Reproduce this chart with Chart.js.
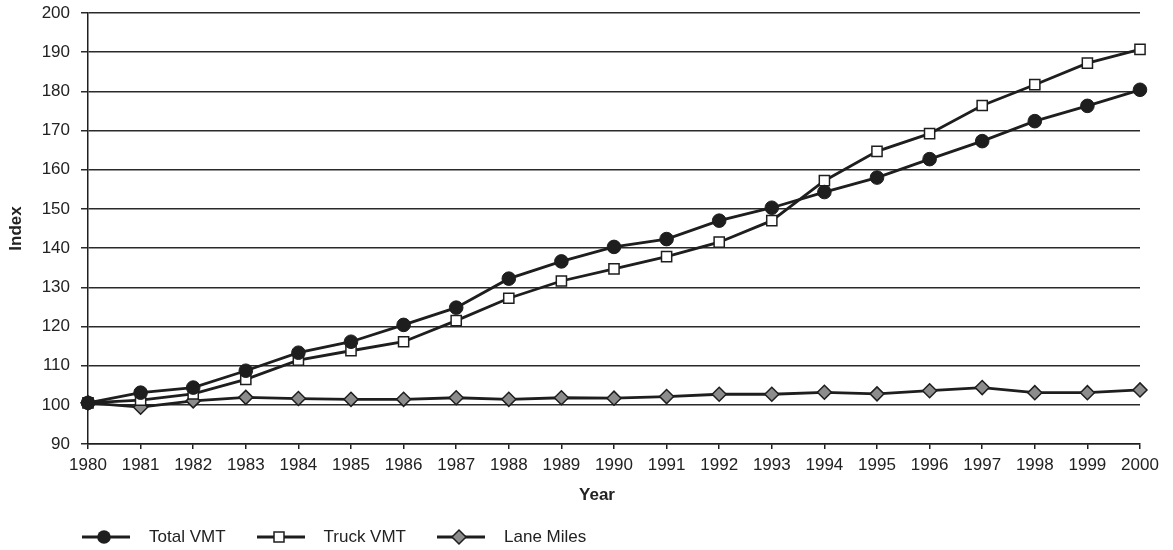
<!DOCTYPE html>
<html>
<head>
<meta charset="utf-8">
<script src="https://cdn.jsdelivr.net/npm/chart.js@4/dist/chart.umd.min.js"></script>
<style>
  html, body { margin: 0; padding: 0; background: #fff; }
  #wrap { position: relative; width: 1173px; height: 550px; }
  #legend {
    position: absolute; left: 82px; top: 527px; height: 20px;
    display: flex; align-items: center;
    font: 17px "Liberation Sans", Arial, sans-serif; color: #222;
  }
  #legend .item { display: flex; align-items: center; margin-right: 31px; }
  #legend svg { margin-right: 19px; }
</style>
</head>
<body>
<div id="wrap">
  <canvas id="chart" width="1173" height="550"></canvas>
  <div id="legend"></div>
</div>
<script>
const years = ["1980","1981","1982","1983","1984","1985","1986","1987","1988","1989","1990",
  "1991","1992","1993","1994","1995","1996","1997","1998","1999","2000"];
const totalVMT = [100.5, 103.1, 104.4, 108.7, 113.3, 116.1, 120.4, 124.8, 132.2, 136.6, 140.3,
  142.3, 147.0, 150.3, 154.3, 158.0, 162.7, 167.3, 172.4, 176.3, 180.4];
const truckVMT = [100.5, 101.2, 102.8, 106.5, 111.4, 113.8, 116.1, 121.5, 127.2, 131.6, 134.7,
  137.8, 141.5, 147.0, 157.2, 164.7, 169.2, 176.4, 181.7, 187.2, 190.7];
const laneMiles = [100.5, 99.4, 101.0, 101.9, 101.6, 101.4, 101.4, 101.8, 101.4, 101.8, 101.7,
  102.1, 102.7, 102.7, 103.2, 102.8, 103.6, 104.4, 103.1, 103.1, 103.8];
const yTicks = [90, 100, 110, 120, 130, 140, 150, 160, 170, 180, 190, 200];

const INK = "#1e1e1e";
const FONT = "'Liberation Sans', Arial, sans-serif";

const series = [
  { label: "Total VMT", data: totalVMT, style: "circle", fill: INK, radius: 6.8, bw: 1 },
  { label: "Truck VMT", data: truckVMT, style: "rect", fill: "#ffffff", radius: 7.2, bw: 1.5 },
  { label: "Lane Miles", data: laneMiles, style: "rectRot", fill: "#8c8c8c", radius: 7, bw: 1.5 },
];

// "Year" sits a bit left of the plot centre in the original
const yearTitle = {
  id: "yearTitle",
  afterDraw(chart) {
    const ctx = chart.ctx;
    ctx.save();
    ctx.font = "bold 17px " + FONT;
    ctx.fillStyle = "#222";
    ctx.textAlign = "center";
    ctx.textBaseline = "middle";
    ctx.fillText("Year", 597, 495);
    ctx.restore();
  },
};

new Chart(document.getElementById("chart"), {
  type: "line",
  data: {
    labels: years,
    datasets: series.map((s) => ({
      label: s.label,
      data: s.data,
      borderColor: INK,
      borderWidth: 2.8,
      pointStyle: s.style,
      pointRadius: s.radius,
      pointBackgroundColor: s.fill,
      pointBorderColor: INK,
      pointBorderWidth: s.bw,
      tension: 0,
    })),
  },
  options: {
    responsive: false,
    animation: false,
    layout: { padding: { top: 13, right: 33, bottom: 45, left: 0 } },
    plugins: { legend: { display: false }, tooltip: { enabled: false } },
    scales: {
      x: {
        grid: { drawOnChartArea: false, drawTicks: true, tickLength: 5, color: INK, lineWidth: 1.5 },
        border: { display: true, color: INK, width: 1.5 },
        ticks: { color: "#222", font: { family: FONT, size: 17 }, padding: 6, maxRotation: 0, autoSkip: false },
        afterFit: (s) => { s.height = 61; s.paddingLeft = 0; s.paddingRight = 0; },
      },
      y: {
        min: 90,
        max: 200,
        afterBuildTicks: (s) => { s.ticks = yTicks.map((v) => ({ value: v })); },
        grid: { color: "#2a2a2a", lineWidth: 1.5, drawTicks: true, tickLength: 7 },
        border: { display: true, color: INK, width: 1.5 },
        ticks: { color: "#222", font: { family: FONT, size: 17 }, padding: 11 },
        title: { display: true, text: "Index", color: "#222", font: { family: FONT, size: 17, weight: "bold" }, padding: { top: 6, bottom: 0 } },
        afterFit: (s) => { s.width = 88; s.paddingTop = 0; s.paddingBottom = 0; },
      },
    },
  },
  plugins: [yearTitle],
});

// legend: short line with the marker on it, then the label
const legend = document.getElementById("legend");
for (const s of series) {
  let marker;
  if (s.style === "circle") marker = `<circle cx="22" cy="10" r="6.8" fill="${INK}"/>`;
  else if (s.style === "rect") marker = `<rect x="17" y="5" width="10" height="10" fill="#fff" stroke="${INK}" stroke-width="1.5"/>`;
  else marker = `<polygon points="15,10 22,3 29,10 22,17" fill="${s.fill}" stroke="${INK}" stroke-width="1.5"/>`;
  const item = document.createElement("div");
  item.className = "item";
  item.innerHTML = `<svg width="48" height="20"><line x1="0" y1="10" x2="48" y2="10" stroke="${INK}" stroke-width="3"/>${marker}</svg><span>${s.label}</span>`;
  legend.appendChild(item);
}
</script>
</body>
</html>
